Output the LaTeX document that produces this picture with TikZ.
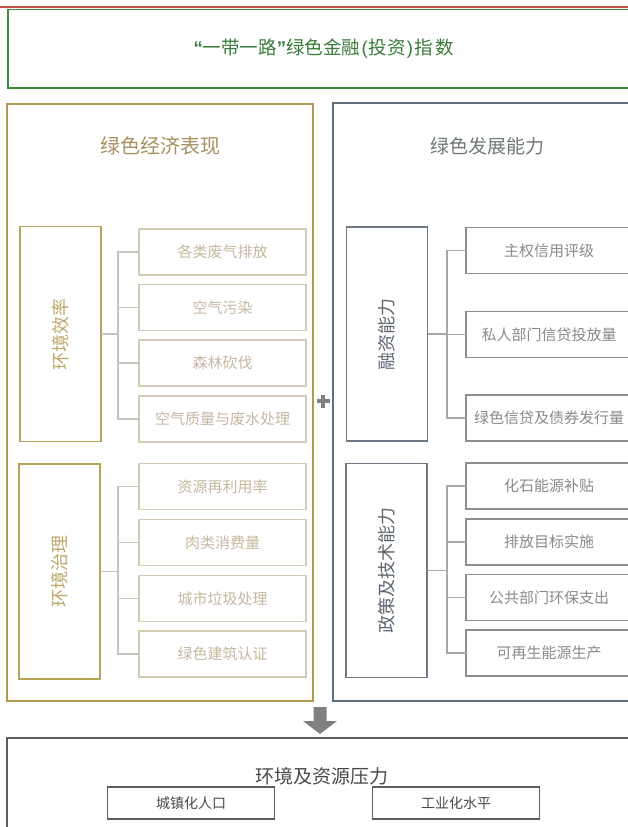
\documentclass[tikz,border=0pt]{standalone}
\usepackage{fontspec}
\setmainfont{Noto Sans CJK SC}
\newfontfamily\latq{Liberation Sans}
\definecolor{redL}{HTML}{C8504A}
\definecolor{greenB}{HTML}{3C8C3C}
\definecolor{greenT}{HTML}{3A7A3A}
\definecolor{goldO}{HTML}{B09850}
\definecolor{goldS}{HTML}{B8A458}
\definecolor{goldT}{HTML}{A89060}
\definecolor{goldV}{HTML}{BCA868}
\definecolor{beigeB}{HTML}{D5CAB6}
\definecolor{beigeT}{HTML}{C6B8A0}
\definecolor{lineL}{HTML}{C4C4C4}
\definecolor{slateO}{HTML}{5E6E7C}
\definecolor{slateS}{HTML}{6E7884}
\definecolor{slateT}{HTML}{707878}
\definecolor{slateV}{HTML}{5E6670}
\definecolor{grayB}{HTML}{8E8E8E}
\definecolor{grayT}{HTML}{8A8A8A}
\definecolor{lineR}{HTML}{A8A8A8}
\definecolor{markG}{HTML}{808080}
\definecolor{botB}{HTML}{5C5C5C}
\definecolor{botT}{HTML}{4A4A4A}
\tikzset{
  fs/.style={font=\fontsize{#1}{#1}\selectfont},
  box/.style={rectangle, inner sep=0pt, outer sep=0pt},
  itemL/.style={box, draw=beigeB, line width=1.3pt, minimum width=167pt, minimum height=46pt, text=beigeT, fs=15},
  itemR/.style={box, draw=grayB, line width=1.3pt, minimum width=166pt, minimum height=46pt, text=grayT, fs=15},
  subL/.style={box, draw=goldS, line width=1.4pt, minimum width=81pt, minimum height=215pt},
  subR/.style={box, draw=slateS, line width=1.4pt, minimum width=81pt, minimum height=214pt},
  vtextL/.style={rotate=90, text=goldV, fs=18},
  vtextR/.style={rotate=90, text=slateV, fs=18},
  connL/.style={draw=lineL, line width=1.3pt},
  connR/.style={draw=lineR, line width=1.3pt},
  botitem/.style={box, draw=botB, line width=1.2pt, minimum width=167pt, minimum height=32pt, text=botT, fs=14},
}
\begin{document}
\begin{tikzpicture}[x=1pt, y=-1pt]
\useasboundingbox (0,0) rectangle (628,827);
\clip (0,0) rectangle (628,827);
\fill[white] (0,0) rectangle (628,827);

% top red line and title box
\draw[redL, line width=2pt] (0,6.5) -- (628,6.5);
\node[box, draw=greenB, line width=1.8pt, minimum width=632pt, minimum height=78.5pt] (top) at (324,48.75) {};
\node[text=greenT, fs=18.5] (toptitle) at (324,49) {{\latq\bfseries “}一带一路{\latq\bfseries ”}绿色金融\hspace{1.5pt}{\latq(}\hspace{1pt}投资\hspace{1pt}{\latq)}\hspace{1.5pt}指\hspace{3pt}数};

% left group
\node[box, draw=goldO, line width=1.6pt, minimum width=306pt, minimum height=597pt] (left) at (160,402.5) {};
\node[text=goldT, fs=20] (lefttitle) at (160,146) {绿色经济表现};

\node[subL] (s1) at (60.5,334) {};
\node[vtextL] at (s1) {环境效率};
\node[itemL] (a1) at (222.5,252) {各类废气排放};
\node[itemL] (a2) at (222.5,307.5) {空气污染};
\node[itemL] (a3) at (222.5,363) {森林砍伐};
\node[itemL] (a4) at (222.5,419) {空气质量与废水处理};
\coordinate (j1) at (118,334);
\draw[connL] (s1.east) -- (j1);
\foreach \i in {1,...,4} \draw[connL] (j1) |- (a\i.west);

\node[subL] (s2) at (59.5,571.5) {};
\node[vtextL] at (s2) {环境治理};
\node[itemL] (b1) at (222.5,486.5) {资源再利用率};
\node[itemL] (b2) at (222.5,542.5) {肉类消费量};
\node[itemL] (b3) at (222.5,598.5) {城市垃圾处理};
\node[itemL] (b4) at (222.5,654) {绿色建筑认证};
\coordinate (j2) at (118,571.5);
\draw[connL] (s2.east) -- (j2);
\foreach \i in {1,...,4} \draw[connL] (j2) |- (b\i.west);

% right group
\node[box, draw=slateO, line width=1.6pt, minimum width=317pt, minimum height=598pt] (right) at (491.5,402) {};
\node[text=slateT, fs=19] (righttitle) at (487,146) {绿色发展能力};

\node[subR] (r1) at (387,334) {};
\node[vtextR] at (r1) {融资能力};
\node[itemR] (c1) at (549,250.5) {主权信用评级};
\node[itemR] (c2) at (549,334.5) {私人部门信贷投放量};
\node[itemR] (c3) at (549,418) {绿色信贷及债券发行量};
\coordinate (k1) at (447,334);
\draw[connR] (r1.east) -- (k1);
\foreach \i in {1,...,3} \draw[connR] (k1) |- (c\i.west);

\node[subR] (r2) at (386.5,570.5) {};
\node[vtextR] at (r2) {政策及技术能力};
\node[itemR] (d1) at (549,486) {化石能源补贴};
\node[itemR] (d2) at (549,542) {排放目标实施};
\node[itemR] (d3) at (549,597.5) {公共部门环保支出};
\node[itemR] (d4) at (549,653) {可再生能源生产};
\coordinate (k2) at (447,570.5);
\draw[connR] (r2.east) -- (k2);
\foreach \i in {1,...,4} \draw[connR] (k2) |- (d\i.west);

% plus sign
\draw[markG, line width=3.6pt] (316.5,401) -- (329.5,401) (323,394.5) -- (323,407.5);

% down arrow
\fill[markG] (313.5,707) -- (326.5,707) -- (326.5,721) -- (337,721) -- (320,734) -- (303,721) -- (313.5,721) -- cycle;

% bottom group
\node[box, draw=botB, line width=1.8pt, minimum width=643pt, minimum height=102pt] (bottom) at (328.5,789) {};
\node[text=botT, fs=19] (bottitle) at (322,776) {环境及资源压力};
\node[botitem] (e1) at (191,803) {城镇化人口};
\node[botitem] (e2) at (456,803) {工业化水平};
\end{tikzpicture}
\end{document}
